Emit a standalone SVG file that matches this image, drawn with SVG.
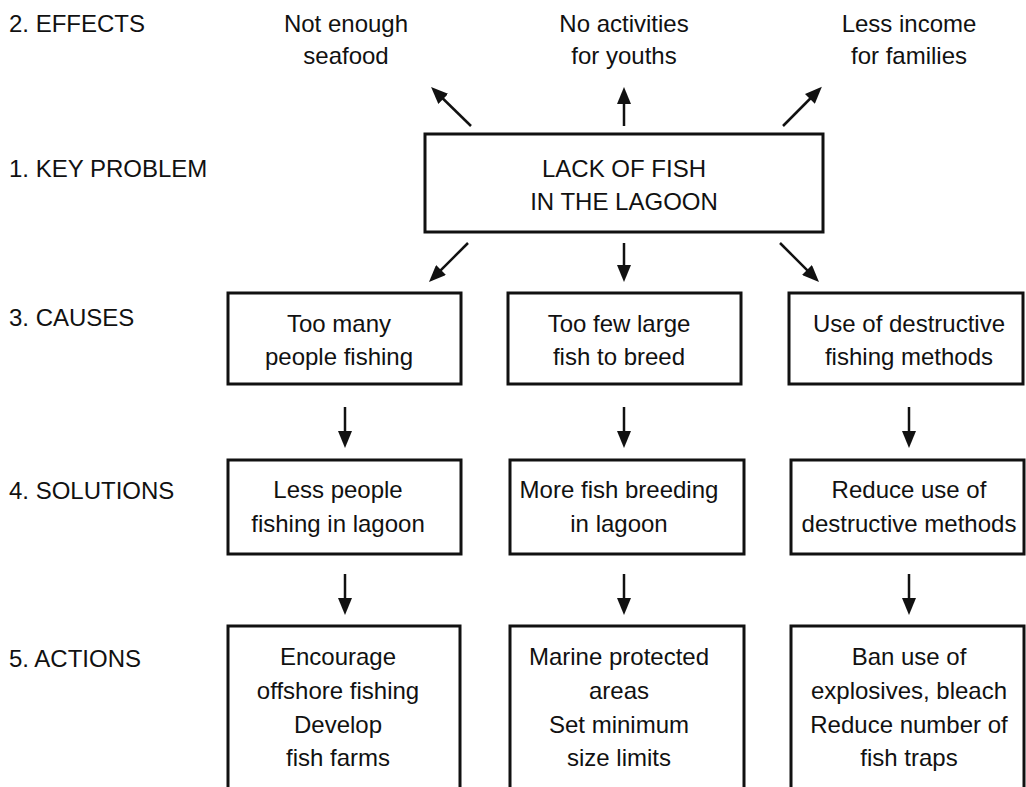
<svg xmlns="http://www.w3.org/2000/svg" width="1026" height="787" viewBox="0 0 1026 787">
  <style>
    text { font-family: "Liberation Sans", Arial, sans-serif; font-size: 24px; fill: #111; }
    .c { text-anchor: middle; }
    .box { fill: #fff; stroke: #111; stroke-width: 3; }
    .arrow { stroke: #111; stroke-width: 2.5; fill: none; marker-end: url(#ah); }
  </style>
  <defs>
    <marker id="ah" markerUnits="userSpaceOnUse" markerWidth="17" markerHeight="14" refX="2" refY="7" orient="auto">
      <path d="M0,0 L17,7 L0,14 z" fill="#111"/>
    </marker>
  </defs>
  <rect width="1026" height="787" fill="#fff"/>

  <g id="row-labels">
    <text x="9" y="32">2. EFFECTS</text>
    <text x="9" y="177">1. KEY PROBLEM</text>
    <text x="9" y="326">3. CAUSES</text>
    <text x="9" y="499">4. SOLUTIONS</text>
    <text x="9" y="667">5. ACTIONS</text>
  </g>

  <g id="effect-1">
    <text class="c" x="346" y="32">Not enough</text>
    <text class="c" x="346" y="64">seafood</text>
  </g>
  <g id="effect-2">
    <text class="c" x="624" y="32">No activities</text>
    <text class="c" x="624" y="64">for youths</text>
  </g>
  <g id="effect-3">
    <text class="c" x="909" y="32">Less income</text>
    <text class="c" x="909" y="64">for families</text>
  </g>

  <g id="key-problem">
    <rect class="box" x="425" y="134" width="398" height="98"/>
    <text class="c" x="624" y="177">LACK OF FISH</text>
    <text class="c" x="624" y="210">IN THE LAGOON</text>
  </g>

  <g id="cause-1">
    <rect class="box" x="228" y="293" width="233" height="91"/>
    <text class="c" x="339" y="332">Too many</text>
    <text class="c" x="339" y="365">people fishing</text>
  </g>
  <g id="cause-2">
    <rect class="box" x="508" y="293" width="233" height="91"/>
    <text class="c" x="619" y="332">Too few large</text>
    <text class="c" x="619" y="365">fish to breed</text>
  </g>
  <g id="cause-3">
    <rect class="box" x="789" y="293" width="234" height="91"/>
    <text class="c" x="909" y="332">Use of destructive</text>
    <text class="c" x="909" y="365">fishing methods</text>
  </g>

  <g id="solution-1">
    <rect class="box" x="228" y="460" width="233" height="94"/>
    <text class="c" x="338" y="498">Less people</text>
    <text class="c" x="338" y="532">fishing in lagoon</text>
  </g>
  <g id="solution-2">
    <rect class="box" x="510" y="460" width="234" height="94"/>
    <text class="c" x="619" y="498">More fish breeding</text>
    <text class="c" x="619" y="532">in lagoon</text>
  </g>
  <g id="solution-3">
    <rect class="box" x="791" y="460" width="233" height="94"/>
    <text class="c" x="909" y="498">Reduce use of</text>
    <text class="c" x="909" y="532">destructive methods</text>
  </g>

  <g id="action-1">
    <rect class="box" x="228" y="626" width="232" height="180"/>
    <text class="c" x="338" y="665">Encourage</text>
    <text class="c" x="338" y="699">offshore fishing</text>
    <text class="c" x="338" y="733">Develop</text>
    <text class="c" x="338" y="766">fish farms</text>
  </g>
  <g id="action-2">
    <rect class="box" x="510" y="626" width="234" height="180"/>
    <text class="c" x="619" y="665">Marine protected</text>
    <text class="c" x="619" y="699">areas</text>
    <text class="c" x="619" y="733">Set minimum</text>
    <text class="c" x="619" y="766">size limits</text>
  </g>
  <g id="action-3">
    <rect class="box" x="791" y="626" width="233" height="180"/>
    <text class="c" x="909" y="665">Ban use of</text>
    <text class="c" x="909" y="699">explosives, bleach</text>
    <text class="c" x="909" y="733">Reduce number of</text>
    <text class="c" x="909" y="766">fish traps</text>
  </g>

  <g id="connectors">
    <line class="arrow" x1="471" y1="126" x2="441.8" y2="97.5"/>
    <line class="arrow" x1="624" y1="126" x2="624" y2="102"/>
    <line class="arrow" x1="783" y1="126" x2="811.3" y2="97.5"/>
    <line class="arrow" x1="468" y1="243" x2="439.6" y2="271.4"/>
    <line class="arrow" x1="624" y1="243" x2="624" y2="267"/>
    <line class="arrow" x1="780" y1="243" x2="808.4" y2="271.4"/>
    <line class="arrow" x1="345" y1="407" x2="345" y2="433"/>
    <line class="arrow" x1="624" y1="407" x2="624" y2="433"/>
    <line class="arrow" x1="909" y1="407" x2="909" y2="433"/>
    <line class="arrow" x1="345" y1="574" x2="345" y2="600"/>
    <line class="arrow" x1="624" y1="574" x2="624" y2="600"/>
    <line class="arrow" x1="909" y1="574" x2="909" y2="600"/>
  </g>
</svg>
